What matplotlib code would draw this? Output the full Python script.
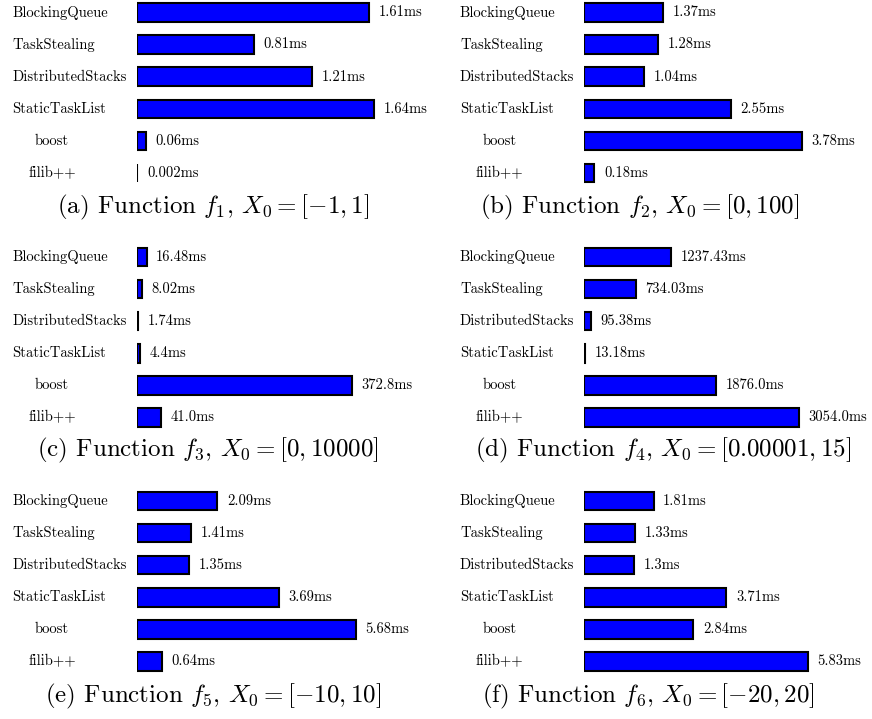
import matplotlib
matplotlib.use("Agg")
import matplotlib.pyplot as plt

plt.rcParams['mathtext.fontset'] = 'cm'
plt.rcParams['font.family'] = 'cmr10'
plt.rcParams['axes.formatter.use_mathtext'] = True

# timings per implementation, one list per test function (ms)
names = ["BlockingQueue", "TaskStealing", "DistributedStacks",
         "StaticTaskList", "boost", "filib++"]
f1_ms = [1.61, 0.81, 1.21, 1.64, 0.06, 0.002]
f2_ms = [1.37, 1.28, 1.04, 2.55, 3.78, 0.18]
f3_ms = [16.48, 8.02, 1.74, 4.4, 372.8, 41.0]
f4_ms = [1237.43, 734.03, 95.38, 13.18, 1876.0, 3054.0]
f5_ms = [2.09, 1.41, 1.35, 3.69, 5.68, 0.64]
f6_ms = [1.81, 1.33, 1.3, 3.71, 2.84, 5.83]
panels = [f1_ms, f2_ms, f3_ms, f4_ms, f5_ms, f6_ms]
letters = ["a", "b", "c", "d", "e", "f"]
domains = ["[-1, 1]", "[0, 100]", "[0, 10000]", "[0.00001, 15]",
           "[-10, 10]", "[-20, 20]"]

# layout in pixels, measured from the top-left corner
W, H, DPI = 872, 719, 100
COL_BAR_X = [137, 584]
COL_LABEL_X = [12, 460]
LABEL_INDENT = {"boost": 23, "filib++": 16}
ROW_FIRST_Y = [12.5, 257, 501]
ROW_STEP = 32.1
CAPTION_BASE_Y = [213, 456, 702]
CAPTION_X = [213, 640, 208, 663, 213, 648]
AX_W = 240
XMAX = [1.663, 4.167, 416.2, 3409, 6.234, 6.25]
BAR_H = 0.576
SMALL = 10.5
BIG = 18

fig = plt.figure(figsize=(W / DPI, H / DPI), dpi=DPI)

for k, values in enumerate(panels):
    row, col = divmod(k, 2)
    n = len(names)
    top = ROW_FIRST_Y[row] - ROW_STEP / 2
    h = ROW_STEP * n
    ax = fig.add_axes([COL_BAR_X[col] / W, 1 - (top + h) / H, AX_W / W, h / H])
    ax.barh(range(n), values, height=BAR_H, color='#0000ff',
            edgecolor='black', linewidth=1.5)
    ax.set_xlim(0, XMAX[k])
    ax.set_ylim(n - 0.5, -0.5)
    ax.axis('off')

    for i, (name, v) in enumerate(zip(names, values)):
        ax.annotate(f"{v}ms", xy=(v, i), xytext=(7, 0),
                    textcoords='offset points', va='center', ha='left',
                    fontsize=SMALL, annotation_clip=False)
        y = ROW_FIRST_Y[row] + i * ROW_STEP
        fig.text((COL_LABEL_X[col] + LABEL_INDENT.get(name, 0)) / W, 1 - y / H,
                 name, va='center', ha='left', fontsize=SMALL)

    caption = f"({letters[k]}) Function $f_{k + 1}$, $X_0 = {domains[k]}$"
    fig.text(CAPTION_X[k] / W, 1 - CAPTION_BASE_Y[row] / H, caption,
             ha='center', va='baseline', fontsize=BIG)

fig.savefig('out.png', dpi=DPI)
